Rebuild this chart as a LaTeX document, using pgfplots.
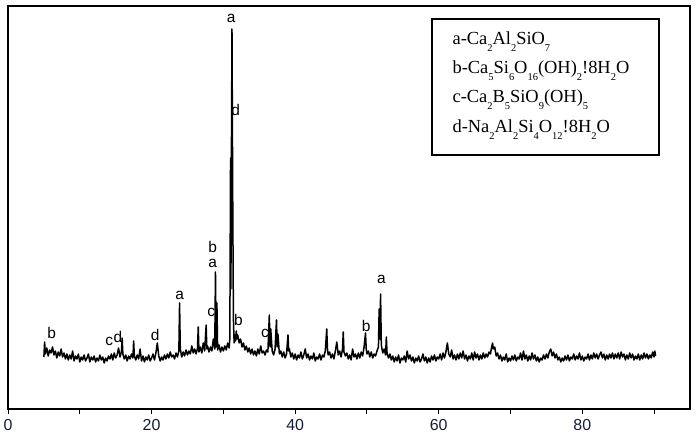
\documentclass[border=0pt]{standalone}
\usepackage{fontspec}
\setmainfont{Liberation Serif}
\newfontfamily\arial{Liberation Sans}
\usepackage{pgfplots}
\pgfplotsset{compat=1.18}

\pgfplotstableread{
x y
5.0 52
5.1 67
5.2 55
5.4 61
5.6 53
5.8 59
6.0 56
6.2 62
6.4 54
6.6 58
6.8 51
7.0 57
7.2 53
7.4 60
7.6 52
7.8 56
8.0 50
8.2 55
8.4 49
8.6 54
8.8 50
9.0 58
9.2 48
9.4 53
9.6 50
9.8 55
10.0 47
10.2 52
10.4 49
10.6 54
10.8 48
11.0 51
11.2 55
11.4 47
11.6 52
11.8 49
12.0 53
12.2 47
12.4 51
12.6 48
12.8 54
13.0 49
13.2 52
13.4 46
13.6 51
13.8 48
14.0 53
14.2 50
14.4 55
14.6 49
14.8 56
15.0 51
15.2 54
15.4 61
15.6 52
15.8 57
15.9 71
16.0 55
16.2 50
16.4 54
16.6 48
16.8 53
17.0 50
17.2 55
17.4 51
17.5 68
17.6 53
17.8 49
18.0 54
18.2 50
18.4 60
18.6 48
18.8 53
19.0 47
19.2 52
19.4 49
19.6 54
19.8 48
20.0 51
20.2 55
20.4 49
20.6 56
20.8 66
21.0 53
21.2 48
21.4 52
21.6 49
21.8 54
22.0 50
22.2 55
22.4 51
22.6 57
22.8 52
23.0 54
23.2 50
23.4 56
23.6 52
23.8 58
23.9 106
24.0 60
24.2 52
24.4 57
24.6 53
24.8 59
25.0 54
25.2 58
25.4 55
25.6 63
25.8 56
26.0 60
26.2 55
26.4 61
26.5 82
26.6 57
26.8 62
27.0 56
27.2 66
27.4 58
27.6 84
27.7 60
27.8 63
28.0 57
28.2 62
28.4 58
28.6 70
28.8 60
28.9 137
29.0 62
29.1 106
29.2 59
29.4 64
29.6 57
29.8 62
30.0 58
30.2 63
30.4 59
30.6 66
30.8 61
30.9 70
31.0 251
31.05 120
31.1 220
31.2 380
31.3 216
31.4 90
31.5 66
31.6 74
31.7 68
31.8 78
31.9 70
32.0 74
32.2 66
32.4 70
32.6 62
32.8 66
33.0 59
33.2 63
33.4 57
33.6 61
33.8 55
34.0 60
34.2 54
34.4 58
34.6 53
34.8 60
35.0 55
35.2 63
35.4 56
35.6 58
35.8 54
36.0 59
36.2 57
36.4 94
36.5 62
36.6 80
36.8 58
37.0 54
37.2 60
37.4 89
37.5 62
37.6 75
37.8 55
38.0 58
38.2 52
38.4 57
38.6 51
38.8 55
39.0 74
39.1 58
39.2 60
39.4 52
39.6 56
39.8 50
40.0 55
40.2 49
40.4 54
40.6 51
40.8 57
41.0 50
41.2 54
41.4 60
41.6 51
41.8 55
42.0 49
42.2 53
42.4 50
42.6 56
42.8 48
43.0 52
43.2 50
43.4 55
43.6 49
43.8 54
44.0 52
44.2 58
44.4 80
44.5 60
44.6 54
44.8 57
45.0 51
45.2 55
45.4 50
45.6 58
45.8 67
46.0 54
46.2 58
46.4 52
46.6 60
46.7 77
46.8 57
47.0 53
47.2 56
47.4 50
47.6 54
47.8 49
48.0 60
48.2 52
48.4 55
48.6 50
48.8 56
49.0 51
49.2 57
49.4 53
49.6 62
49.8 76
49.9 60
50.0 55
50.2 58
50.4 52
50.6 57
50.8 51
51.0 55
51.2 53
51.4 58
51.6 62
51.7 100
51.8 70
51.9 115
52.0 64
52.2 56
52.4 60
52.6 54
52.7 72
52.8 56
53.0 51
53.2 55
53.4 49
53.6 53
53.8 47
54.0 52
54.2 48
54.4 54
54.6 46
54.8 51
55.0 49
55.2 53
55.4 47
55.6 58
55.8 50
56.0 54
56.2 48
56.4 52
56.6 46
56.8 51
57.0 48
57.2 53
57.4 47
57.6 50
57.8 55
58.0 48
58.2 52
58.4 46
58.6 51
58.8 47
59.0 53
59.2 49
59.4 54
59.6 48
59.8 52
60.0 50
60.2 55
60.4 49
60.6 56
60.8 51
61.0 57
61.2 66
61.4 55
61.6 52
61.8 59
62.0 50
62.2 54
62.4 49
62.6 55
62.8 50
63.0 56
63.2 51
63.4 58
63.6 50
63.8 54
64.0 48
64.2 53
64.4 50
64.6 56
64.8 49
65.0 57
65.2 51
65.4 55
65.6 49
65.8 54
66.0 50
66.2 56
66.4 51
66.6 55
66.8 52
67.0 57
67.2 55
67.4 63
67.5 66
67.6 60
67.8 62
68.0 53
68.2 56
68.4 50
68.6 54
68.8 48
69.0 52
69.2 49
69.4 55
69.6 47
69.8 51
70.0 48
70.2 53
70.4 49
70.6 54
70.8 48
71.0 52
71.2 50
71.4 56
71.6 49
71.8 58
72.0 50
72.2 54
72.4 48
72.6 53
72.8 49
73.0 56
73.2 50
73.4 54
73.6 48
73.8 52
74.0 47
74.2 51
74.4 49
74.6 54
74.8 50
75.0 55
75.2 51
75.4 57
75.6 60
75.8 53
76.0 57
76.2 51
76.4 55
76.6 49
76.8 52
77.0 47
77.2 51
77.4 48
77.6 53
77.8 49
78.0 54
78.2 48
78.4 52
78.6 50
78.8 55
79.0 49
79.2 53
79.4 50
79.6 56
79.8 49
80.0 53
80.2 48
80.4 52
80.6 50
80.8 55
81.0 49
81.2 54
81.4 50
81.6 56
81.8 51
82.0 55
82.2 50
82.4 54
82.6 57
82.8 51
83.0 55
83.2 49
83.4 54
83.6 50
83.8 55
84.0 51
84.2 56
84.4 50
84.6 55
84.8 51
85.0 56
85.2 50
85.4 57
85.6 52
85.8 55
86.0 49
86.2 54
86.4 50
86.6 56
86.8 51
87.0 55
87.2 49
87.4 53
87.6 50
87.8 55
88.0 49
88.2 54
88.4 50
88.6 56
88.8 51
89.0 55
89.2 50
89.4 54
89.6 51
89.8 57
90.0 52
90.1 58
90.2 53
}\xrd

\definecolor{ticknavy}{RGB}{20,28,60}
% low, small subscripts as in the legend of the original figure
\newcommand\sub[1]{\raisebox{-6.5bp}{\fontsize{10.5}{10.5}\selectfont #1}}

\begin{document}
\begin{tikzpicture}
\begin{axis}[
  at={(0,0)}, anchor=south west,
  width=682bp, height=403bp, scale only axis,
  xmin=0, xmax=95, ymin=0, ymax=403,
  ytick=\empty,
  xtick={0,10,...,90},
  xticklabels={0,,20,,40,,60,,80,},
  tick align=outside, xtick pos=bottom,
  major tick length=5bp,
  axis line style={line width=2bp},
  tick style={line width=1bp, black},
  /pgf/number format/assume math mode=true,
  tick label style={font=\arial\fontsize{16}{16}\selectfont, text=ticknavy},
  xticklabel style={yshift=-2bp},
]
\addplot[black, line width=1.5bp, line join=round] table[x=x, y=y] {\xrd};

% peak labels
\begin{scope}[every node/.style={font=\arial\fontsize{15.5}{15.5}\selectfont, inner sep=0pt}]
\node at (axis cs:31.1,391) {a};
\node at (axis cs:31.7,299) {d};
\node at (axis cs:28.5,162) {b};
\node at (axis cs:28.5,146) {a};
\node at (axis cs:23.9,114) {a};
\node at (axis cs:28.3,97) {c};
\node at (axis cs:32.1,89) {b};
\node at (axis cs:35.8,76) {c};
\node at (axis cs:49.9,83) {b};
\node at (axis cs:52.0,130) {a};
\node at (axis cs:6.1,76) {b};
\node at (axis cs:14.1,68) {c};
\node at (axis cs:15.3,72) {d};
\node at (axis cs:20.5,74) {d};
\end{scope}

% legend box
\draw[line width=1.6bp, fill=white] (axis cs:59.1,254) rectangle (axis cs:90.7,390);
\begin{scope}[every node/.style={anchor=base west, inner sep=0pt, font=\fontsize{18.5}{18.5}\selectfont}]
\node at (axis cs:61.9,364) {a-Ca\sub{2}Al\sub{2}SiO\sub{7}};
\node at (axis cs:61.9,335) {b-Ca\sub{5}Si\sub{6}O\sub{16}(OH)\sub{2}!8H\sub{2}O};
\node at (axis cs:61.9,306) {c-Ca\sub{2}B\sub{5}SiO\sub{9}(OH)\sub{5}};
\node at (axis cs:61.9,276) {d-Na\sub{2}Al\sub{2}Si\sub{4}O\sub{12}!8H\sub{2}O};
\end{scope}
\end{axis}
\pgfresetboundingbox
\path (-8bp,-31bp) rectangle (692bp,409bp);
\end{tikzpicture}
\end{document}
